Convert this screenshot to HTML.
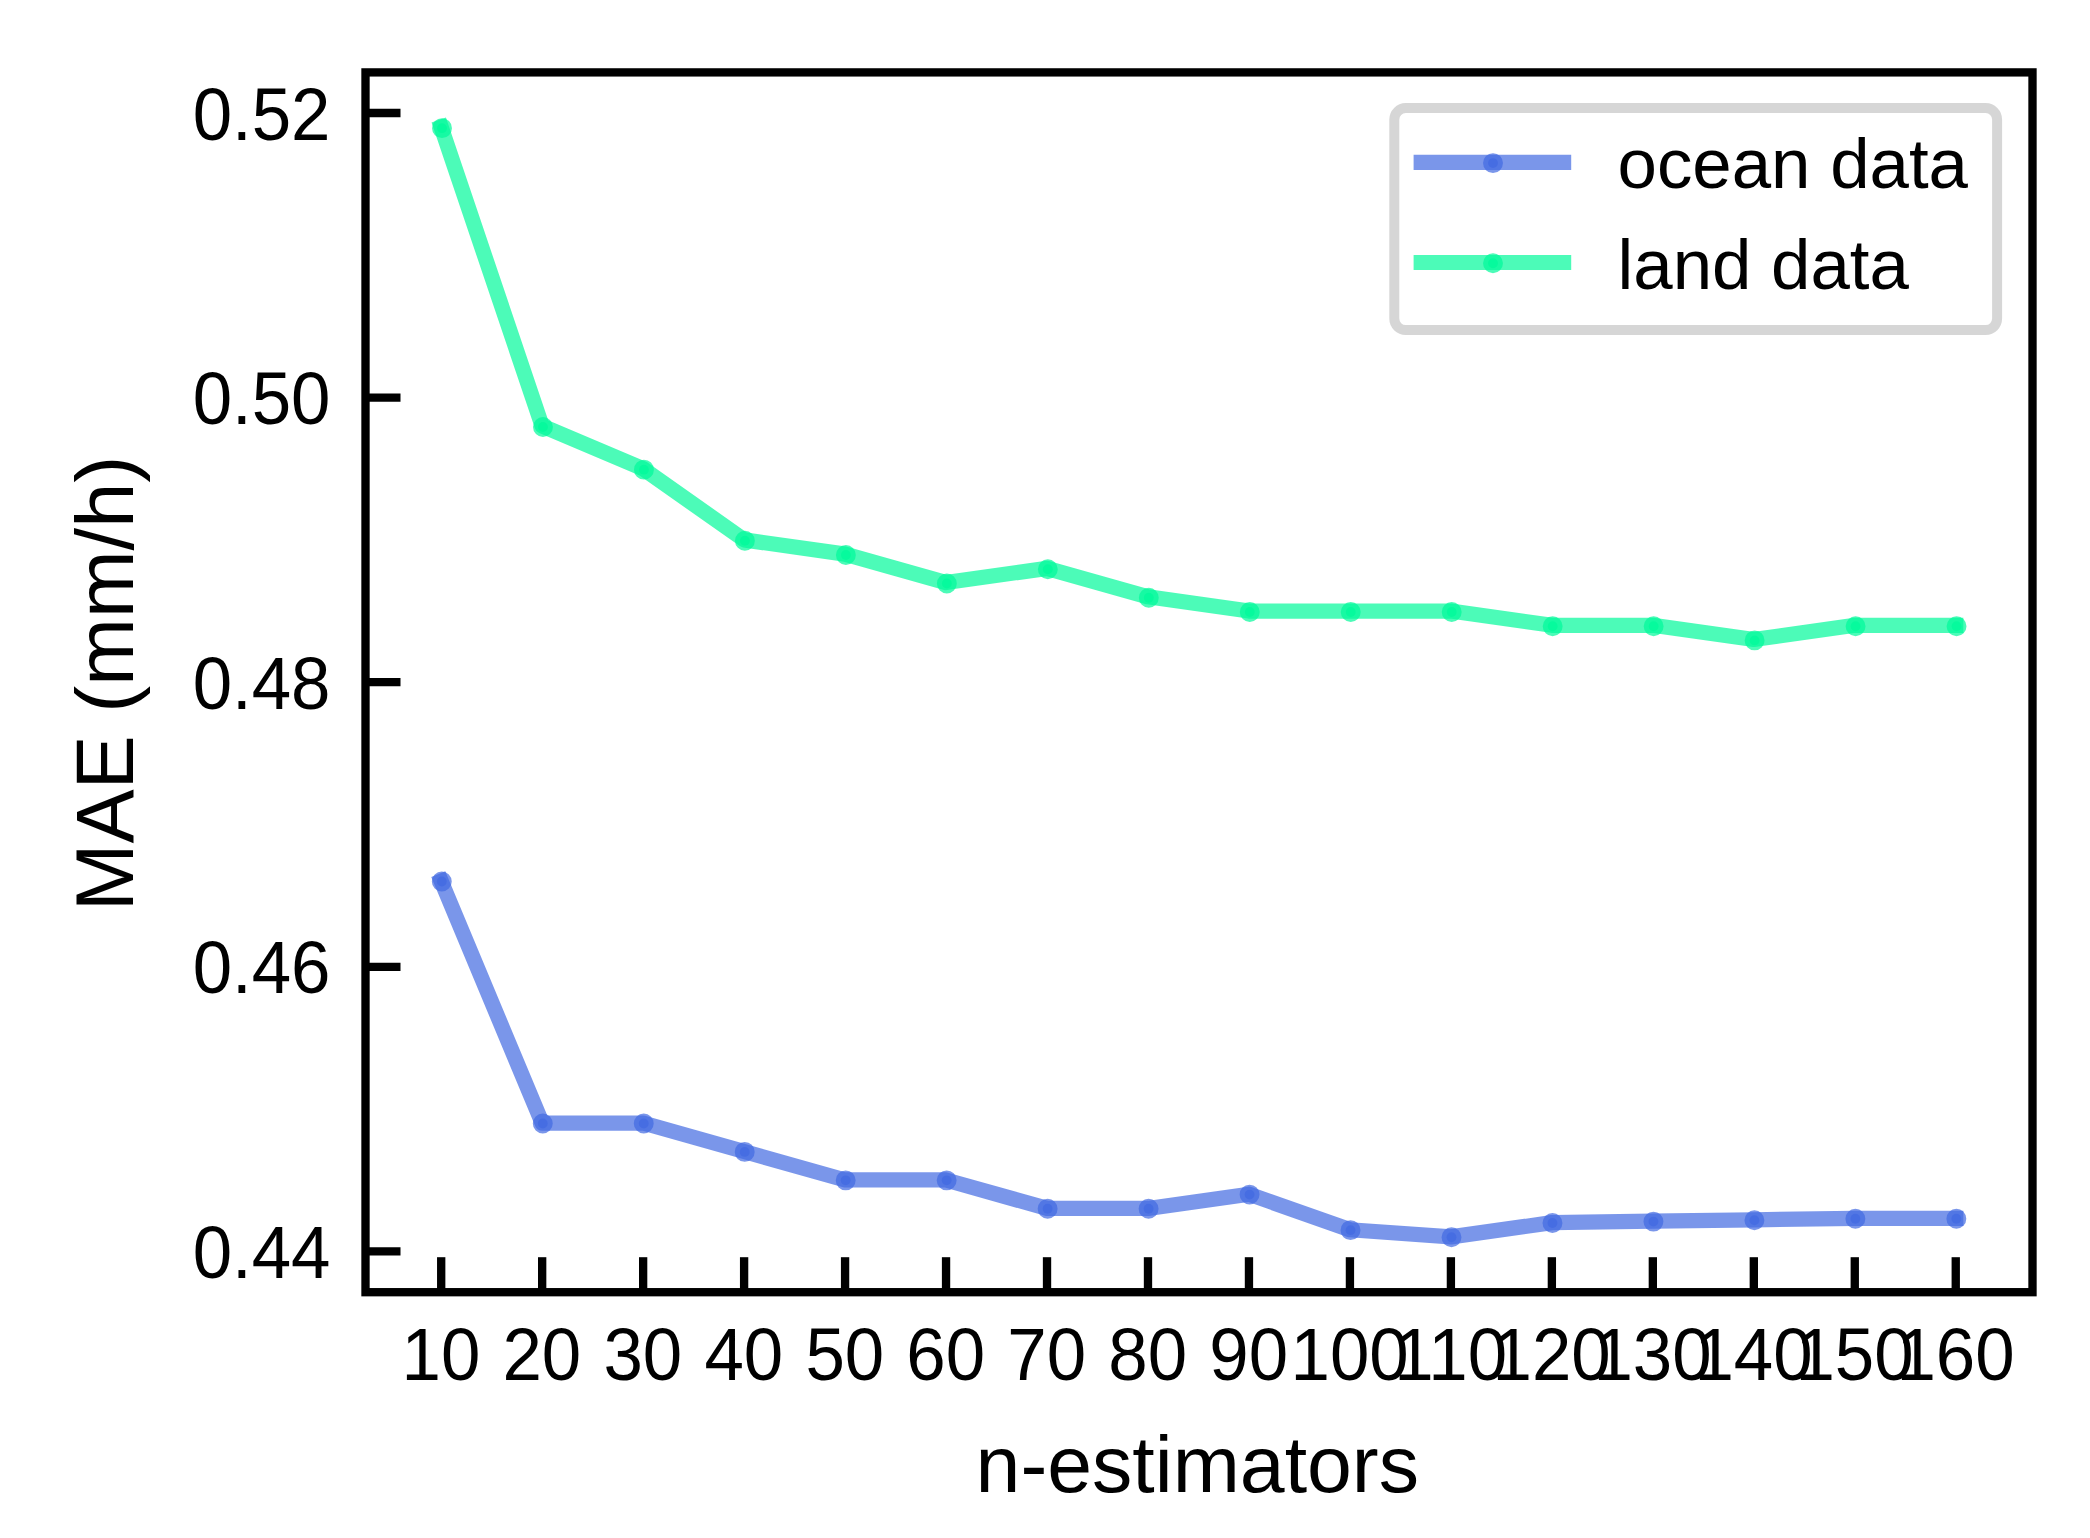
<!DOCTYPE html>
<html lang="en"><head><meta charset="utf-8"><title>MAE vs n-estimators</title>
<style>html,body{margin:0;padding:0;background:#fff;}svg{display:block;}text{font-family:"Liberation Sans",sans-serif;fill:#000;}</style></head><body>
<svg width="2090" height="1538" viewBox="0 0 2090 1538">
<rect x="0" y="0" width="2090" height="1538" fill="#ffffff"/>
<polyline points="441.2,881.12 542.17,1123.03 643.14,1123.03 744.11,1151.49 845.08,1179.95 946.05,1179.95 1047.02,1208.41 1147.99,1208.41 1248.96,1194.18 1349.93,1229.76 1450.9,1236.87 1551.87,1222.64 1652.84,1221.22 1753.81,1219.79 1854.78,1218.37 1955.75,1218.37" fill="none" stroke="#4169e1" stroke-opacity="0.7" stroke-width="15.2" stroke-linejoin="round" stroke-linecap="square"/>
<g fill="#4169e1" fill-opacity="0.7" stroke="#4169e1" stroke-opacity="0.7" stroke-width="10">
<circle cx="441.8" cy="881.52" r="4.95"/>
<circle cx="542.77" cy="1123.43" r="4.95"/>
<circle cx="643.74" cy="1123.43" r="4.95"/>
<circle cx="744.71" cy="1151.89" r="4.95"/>
<circle cx="845.68" cy="1180.35" r="4.95"/>
<circle cx="946.65" cy="1180.35" r="4.95"/>
<circle cx="1047.62" cy="1208.81" r="4.95"/>
<circle cx="1148.59" cy="1208.81" r="4.95"/>
<circle cx="1249.56" cy="1194.58" r="4.95"/>
<circle cx="1350.53" cy="1230.16" r="4.95"/>
<circle cx="1451.5" cy="1237.27" r="4.95"/>
<circle cx="1552.47" cy="1223.04" r="4.95"/>
<circle cx="1653.44" cy="1221.62" r="4.95"/>
<circle cx="1754.41" cy="1220.19" r="4.95"/>
<circle cx="1855.38" cy="1218.77" r="4.95"/>
<circle cx="1956.35" cy="1218.77" r="4.95"/>
</g>
<polyline points="441.2,127.23 542.17,426.06 643.14,468.75 744.11,539.9 845.08,554.13 946.05,582.59 1047.02,568.36 1147.99,596.82 1248.96,611.05 1349.93,611.05 1450.9,611.05 1551.87,625.28 1652.84,625.28 1753.81,639.51 1854.78,625.28 1955.75,625.28" fill="none" stroke="#00fa9a" stroke-opacity="0.7" stroke-width="15.2" stroke-linejoin="round" stroke-linecap="square"/>
<g fill="#00fa9a" fill-opacity="0.7" stroke="#00fa9a" stroke-opacity="0.7" stroke-width="10">
<circle cx="442" cy="128.13" r="4.95"/>
<circle cx="542.97" cy="426.96" r="4.95"/>
<circle cx="643.94" cy="469.65" r="4.95"/>
<circle cx="744.91" cy="540.8" r="4.95"/>
<circle cx="845.88" cy="555.03" r="4.95"/>
<circle cx="946.85" cy="583.49" r="4.95"/>
<circle cx="1047.82" cy="569.26" r="4.95"/>
<circle cx="1148.79" cy="597.72" r="4.95"/>
<circle cx="1249.76" cy="611.95" r="4.95"/>
<circle cx="1350.73" cy="611.95" r="4.95"/>
<circle cx="1451.7" cy="611.95" r="4.95"/>
<circle cx="1552.67" cy="626.18" r="4.95"/>
<circle cx="1653.64" cy="626.18" r="4.95"/>
<circle cx="1754.61" cy="640.41" r="4.95"/>
<circle cx="1855.58" cy="626.18" r="4.95"/>
<circle cx="1956.55" cy="626.18" r="4.95"/>
</g>
<g stroke="#000" stroke-width="8.33" stroke-linecap="butt">
<line x1="441.2" y1="1292.2" x2="441.2" y2="1257.2"/>
<line x1="542.17" y1="1292.2" x2="542.17" y2="1257.2"/>
<line x1="643.14" y1="1292.2" x2="643.14" y2="1257.2"/>
<line x1="744.11" y1="1292.2" x2="744.11" y2="1257.2"/>
<line x1="845.08" y1="1292.2" x2="845.08" y2="1257.2"/>
<line x1="946.05" y1="1292.2" x2="946.05" y2="1257.2"/>
<line x1="1047.02" y1="1292.2" x2="1047.02" y2="1257.2"/>
<line x1="1147.99" y1="1292.2" x2="1147.99" y2="1257.2"/>
<line x1="1248.96" y1="1292.2" x2="1248.96" y2="1257.2"/>
<line x1="1349.93" y1="1292.2" x2="1349.93" y2="1257.2"/>
<line x1="1450.9" y1="1292.2" x2="1450.9" y2="1257.2"/>
<line x1="1551.87" y1="1292.2" x2="1551.87" y2="1257.2"/>
<line x1="1652.84" y1="1292.2" x2="1652.84" y2="1257.2"/>
<line x1="1753.81" y1="1292.2" x2="1753.81" y2="1257.2"/>
<line x1="1854.78" y1="1292.2" x2="1854.78" y2="1257.2"/>
<line x1="1955.75" y1="1292.2" x2="1955.75" y2="1257.2"/>
<line x1="365.5" y1="1251.4" x2="400.5" y2="1251.4"/>
<line x1="365.5" y1="966.8" x2="400.5" y2="966.8"/>
<line x1="365.5" y1="682.2" x2="400.5" y2="682.2"/>
<line x1="365.5" y1="397.6" x2="400.5" y2="397.6"/>
<line x1="365.5" y1="113" x2="400.5" y2="113"/>
</g>
<rect x="365.5" y="72.4" width="1667" height="1219.8" fill="none" stroke="#000" stroke-width="8.33" stroke-linejoin="miter"/>
<g font-size="70.83" text-anchor="middle">
<text transform="translate(440.9 1380.4) scale(1 1.04)">10</text>
<text transform="translate(541.87 1380.4) scale(1 1.04)">20</text>
<text transform="translate(642.84 1380.4) scale(1 1.04)">30</text>
<text transform="translate(743.81 1380.4) scale(1 1.04)">40</text>
<text transform="translate(844.78 1380.4) scale(1 1.04)">50</text>
<text transform="translate(945.75 1380.4) scale(1 1.04)">60</text>
<text transform="translate(1046.72 1380.4) scale(1 1.04)">70</text>
<text transform="translate(1147.69 1380.4) scale(1 1.04)">80</text>
<text transform="translate(1248.66 1380.4) scale(1 1.04)">90</text>
<text transform="translate(1349.63 1380.4) scale(1 1.04)">100</text>
<text transform="translate(1450.6 1380.4) scale(1 1.04)">110</text>
<text transform="translate(1551.57 1380.4) scale(1 1.04)">120</text>
<text transform="translate(1652.54 1380.4) scale(1 1.04)">130</text>
<text transform="translate(1753.51 1380.4) scale(1 1.04)">140</text>
<text transform="translate(1854.48 1380.4) scale(1 1.04)">150</text>
<text transform="translate(1955.45 1380.4) scale(1 1.04)">160</text>
</g>
<g font-size="70.83" text-anchor="end">
<text transform="translate(330.5 1278) scale(1 1.04)">0.44</text>
<text transform="translate(330.5 993.4) scale(1 1.04)">0.46</text>
<text transform="translate(330.5 708.8) scale(1 1.04)">0.48</text>
<text transform="translate(330.5 424.2) scale(1 1.04)">0.50</text>
<text transform="translate(330.5 139.6) scale(1 1.04)">0.52</text>
</g>
<text x="1197.3" y="1491.9" font-size="80.6" text-anchor="middle">n-estimators</text>
<text transform="translate(133 683.4) rotate(-90)" font-size="81.2" text-anchor="middle">MAE (mm/h)</text>
<rect x="1394.3" y="108.1" width="602.8" height="221.9" rx="11.4" ry="11.4" fill="#ffffff" fill-opacity="0.8" stroke="#cccccc" stroke-opacity="0.8" stroke-width="10"/>
<line x1="1413.6" y1="162.4" x2="1571.2" y2="162.4" stroke="#4169e1" stroke-opacity="0.7" stroke-width="15.2" stroke-linecap="butt"/>
<circle cx="1493" cy="163.1" r="4.95" fill="#4169e1" fill-opacity="0.7" stroke="#4169e1" stroke-opacity="0.7" stroke-width="10"/>
<text x="1617.5" y="187.9" font-size="70.83">ocean data</text>
<line x1="1413.6" y1="262.5" x2="1571.2" y2="262.5" stroke="#00fa9a" stroke-opacity="0.7" stroke-width="15.2" stroke-linecap="butt"/>
<circle cx="1493" cy="263.2" r="4.95" fill="#00fa9a" fill-opacity="0.7" stroke="#00fa9a" stroke-opacity="0.7" stroke-width="10"/>
<text x="1617.5" y="288.9" font-size="70.83">land data</text>
</svg></body></html>
